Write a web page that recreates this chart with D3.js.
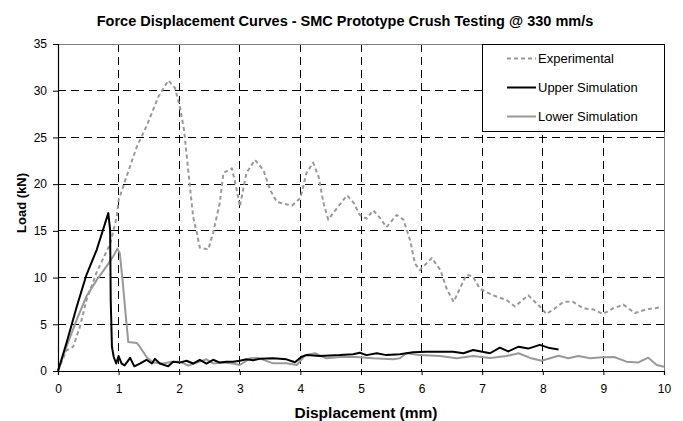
<!DOCTYPE html>
<html>
<head>
<meta charset="utf-8">
<script src="https://cdn.jsdelivr.net/npm/d3@7"></script>
<style>
    body { margin: 0; background: white; }
    svg { display: block; font-family: Arial, 'Liberation Sans', sans-serif; }
</style>
</head>
<body>
<svg id="chart" width="683" height="421"></svg>
<script>
// 刻度
const xTicks = [0, 1, 2, 3, 4, 5, 6, 7, 8, 9, 10]
const yTicks = [0, 5, 10, 15, 20, 25, 30, 35]

// 实验曲线 [位移 mm, 载荷 kN]
const experimental = [
    [0, 0], [0.14, 2.2], [0.25, 2.6], [0.36, 4.7], [0.47, 7.6], [0.64, 10.6], [0.86, 13.6], [0.97, 16.5],
    [1.0, 18.3], [1.13, 20.8], [1.3, 24.0], [1.46, 26.2], [1.66, 29.4], [1.82, 31.1], [1.93, 30.3],
    [2.01, 28.3], [2.08, 25.8], [2.16, 20.8], [2.23, 16.5], [2.29, 14.8], [2.34, 13.2], [2.48, 13.0],
    [2.56, 14.8], [2.67, 18.0], [2.73, 21.2], [2.87, 21.7], [2.95, 19.4], [3.0, 17.6], [3.11, 21.2],
    [3.25, 22.6], [3.39, 21.5], [3.5, 19.4], [3.61, 18.1], [3.86, 17.7], [4.0, 18.5], [4.1, 21.2],
    [4.21, 22.3], [4.3, 20.8], [4.38, 18.0], [4.46, 16.2], [4.6, 17.4], [4.77, 18.8], [4.88, 18.0],
    [4.98, 16.7], [5.09, 16.3], [5.2, 17.2], [5.31, 16.4], [5.42, 15.4], [5.59, 16.7], [5.7, 16.2],
    [5.81, 14.0], [5.89, 11.5], [5.97, 10.8], [6.17, 12.1], [6.31, 10.8], [6.42, 8.7], [6.53, 7.4],
    [6.63, 8.8], [6.74, 10.3], [6.85, 10.1], [6.96, 8.8], [7.18, 8.1], [7.4, 7.6], [7.54, 6.9],
    [7.76, 8.1], [7.95, 6.9], [8.06, 6.1], [8.2, 6.7], [8.34, 7.4], [8.5, 7.4], [8.67, 6.7],
    [8.83, 6.6], [8.99, 6.1], [9.16, 6.7], [9.33, 7.1], [9.52, 6.2], [9.71, 6.6], [9.93, 6.8]
]

// 上限模拟
const upperSim = [
    [0, 0], [0.14, 3.0], [0.31, 6.9], [0.47, 10.3], [0.64, 13.0], [0.83, 16.9], [0.86, 15.1],
    [0.87, 7.6], [0.89, 2.6], [0.92, 1.5], [0.96, 0.8], [1.0, 1.6], [1.05, 0.8], [1.1, 0.6],
    [1.19, 1.4], [1.26, 0.5], [1.35, 0.8], [1.46, 1.2], [1.55, 0.8], [1.6, 1.3], [1.68, 0.8],
    [1.82, 0.5], [1.9, 1.0], [2.01, 0.9], [2.12, 1.1], [2.23, 0.8], [2.34, 1.2], [2.45, 0.8],
    [2.56, 1.2], [2.67, 0.9], [2.78, 1.0], [2.89, 1.0], [3.0, 1.1], [3.11, 1.25], [3.22, 1.15],
    [3.33, 1.3], [3.55, 1.36], [3.77, 1.25], [3.91, 0.93], [4.02, 1.53], [4.1, 1.7], [4.32, 1.6],
    [4.65, 1.7], [4.87, 1.8], [4.98, 1.96], [5.09, 1.7], [5.26, 1.9], [5.42, 1.7], [5.64, 1.8],
    [5.86, 2.0], [6.08, 2.07], [6.3, 2.07], [6.52, 2.07], [6.69, 1.9], [6.85, 2.25], [7.13, 1.9],
    [7.29, 2.5], [7.43, 2.1], [7.6, 2.6], [7.76, 2.4], [7.95, 2.8], [8.09, 2.5], [8.26, 2.3]
]

// 下限模拟
const lowerSim = [
    [0, 0], [0.14, 2.6], [0.31, 5.5], [0.47, 8.0], [0.64, 9.75], [0.8, 11.2], [0.91, 12.25],
    [0.98, 13.1], [1.02, 12.6], [1.07, 9.4], [1.12, 5.8], [1.16, 3.1], [1.3, 3.0], [1.35, 2.6],
    [1.46, 1.5], [1.57, 0.9], [1.74, 0.8], [1.88, 1.0], [2.01, 1.0], [2.15, 0.57], [2.29, 0.9],
    [2.45, 1.25], [2.56, 0.8], [2.73, 0.9], [2.89, 0.8], [3.0, 0.64], [3.17, 1.36], [3.3, 1.4],
    [3.55, 0.82], [3.77, 0.82], [3.94, 0.64], [4.08, 1.7], [4.24, 1.9], [4.43, 1.36], [4.65, 1.5],
    [4.92, 1.5], [5.2, 1.36], [5.53, 1.25], [5.64, 1.36], [5.75, 1.9], [5.97, 1.7], [6.3, 1.6],
    [6.58, 1.36], [6.85, 1.6], [7.13, 1.4], [7.4, 1.6], [7.6, 1.9], [7.79, 1.4], [7.98, 1.1],
    [8.26, 1.64], [8.42, 1.36], [8.59, 1.6], [8.78, 1.36], [8.99, 1.46], [9.18, 1.5], [9.38, 1.0],
    [9.57, 0.9], [9.74, 1.43], [9.88, 0.64], [10.0, 0.46]
]

const seriesNames = ['Experimental', 'Upper Simulation', 'Lower Simulation']

const style = {
    left: 58, right: 664, top: 44, bottom: 371,
    series: [
        { stroke: '#999999', width: 2, dash: '4,3' },
        { stroke: '#000000', width: 2, dash: null },
        { stroke: '#999999', width: 2, dash: null }
    ]
}

const svg = d3.select('#chart')

const x = d3.scaleLinear().domain([0, 10]).range([style.left, style.right])
const y = d3.scaleLinear().domain([0, 35]).range([style.bottom, style.top])

// 网格线
const grid = svg.append('g')
grid.selectAll('.vgrid')
    .data(xTicks.filter((d) => d > 0 && d < 10))
    .enter()
    .append('line')
    .attr('x1', (d) => x(d)).attr('x2', (d) => x(d))
    .attr('y1', style.top).attr('y2', style.bottom)
    .attr('stroke', '#000').attr('stroke-width', 1)
    .attr('stroke-dasharray', '8,5')
    .attr('shape-rendering', 'crispEdges')
grid.selectAll('.hgrid')
    .data(yTicks.filter((d) => d > 0 && d < 35))
    .enter()
    .append('line')
    .attr('x1', style.left).attr('x2', style.right)
    .attr('y1', (d) => y(d)).attr('y2', (d) => y(d))
    .attr('stroke', '#000').attr('stroke-width', 1)
    .attr('stroke-dasharray', '8,5')
    .attr('shape-rendering', 'crispEdges')

// 绘图区边框 (上, 右)
svg.append('path')
    .attr('d', `M${style.left},${style.top}H${style.right}V${style.bottom}`)
    .attr('fill', 'none')
    .attr('stroke', '#808080')
    .attr('stroke-width', 1)
    .attr('shape-rendering', 'crispEdges')

// 曲线
const line = d3.line().x((d) => x(d[0])).y((d) => y(d[1]))
const allSeries = [experimental, upperSim, lowerSim]
// 先画实验，再画下限，最后画上限
;[0, 2, 1].forEach((i) => {
    const s = style.series[i]
    svg.append('path')
        .datum(allSeries[i])
        .attr('d', line)
        .attr('fill', 'none')
        .attr('stroke', s.stroke)
        .attr('stroke-width', s.width)
        .attr('stroke-dasharray', s.dash)
        .attr('stroke-linejoin', 'round')
})

// 坐标轴
const xAxis = svg.append('g')
    .attr('transform', `translate(0,${style.bottom})`)
    .call(d3.axisBottom(x).tickValues(xTicks).tickSize(4).tickPadding(9).tickFormat(d3.format('d')))
const yAxis = svg.append('g')
    .attr('transform', `translate(${style.left},0)`)
    .call(d3.axisLeft(y).tickValues(yTicks).tickSize(5).tickPadding(6).tickFormat(d3.format('d')))
;[xAxis, yAxis].forEach((a) => {
    a.select('.domain').attr('stroke', '#000').attr('stroke-width', 1.2)
    a.selectAll('.tick line').attr('stroke', '#000')
    a.selectAll('text').attr('font-size', '12px').attr('fill', '#000')
        .attr('font-family', 'Arial, Liberation Sans, sans-serif')
})

// 标题
svg.append('text')
    .text('Force Displacement Curves - SMC Prototype Crush Testing @ 330 mm/s')
    .attr('x', 345).attr('y', 26)
    .attr('text-anchor', 'middle')
    .attr('font-size', '14.5px')
    .attr('font-weight', 'bold')

svg.append('text')
    .text('Displacement (mm)')
    .attr('x', 366).attr('y', 418)
    .attr('text-anchor', 'middle')
    .attr('font-size', '15.5px')
    .attr('font-weight', 'bold')

svg.append('text')
    .text('Load (kN)')
    .attr('transform', 'translate(26,203) rotate(-90)')
    .attr('text-anchor', 'middle')
    .attr('font-size', '13px')
    .attr('font-weight', 'bold')

// 图例
const legend = svg.append('g').attr('transform', 'translate(482,44)')
legend.append('rect')
    .attr('width', 182).attr('height', 87)
    .attr('fill', '#fff')
    .attr('stroke', '#000').attr('stroke-width', 1)
    .attr('shape-rendering', 'crispEdges')
const item = legend.selectAll('.item')
    .data(seriesNames)
    .enter()
    .append('g')
    .attr('transform', (d, i) => `translate(0,${14.5 + 29 * i})`)
item.append('line')
    .attr('x1', 25).attr('x2', 54)
    .attr('stroke', (d, i) => style.series[i].stroke)
    .attr('stroke-width', 2)
    .attr('stroke-dasharray', (d, i) => style.series[i].dash)
item.append('text')
    .text((d) => d)
    .attr('x', 56).attr('y', 4.5)
    .attr('font-size', '13px')
</script>
</body>
</html>
